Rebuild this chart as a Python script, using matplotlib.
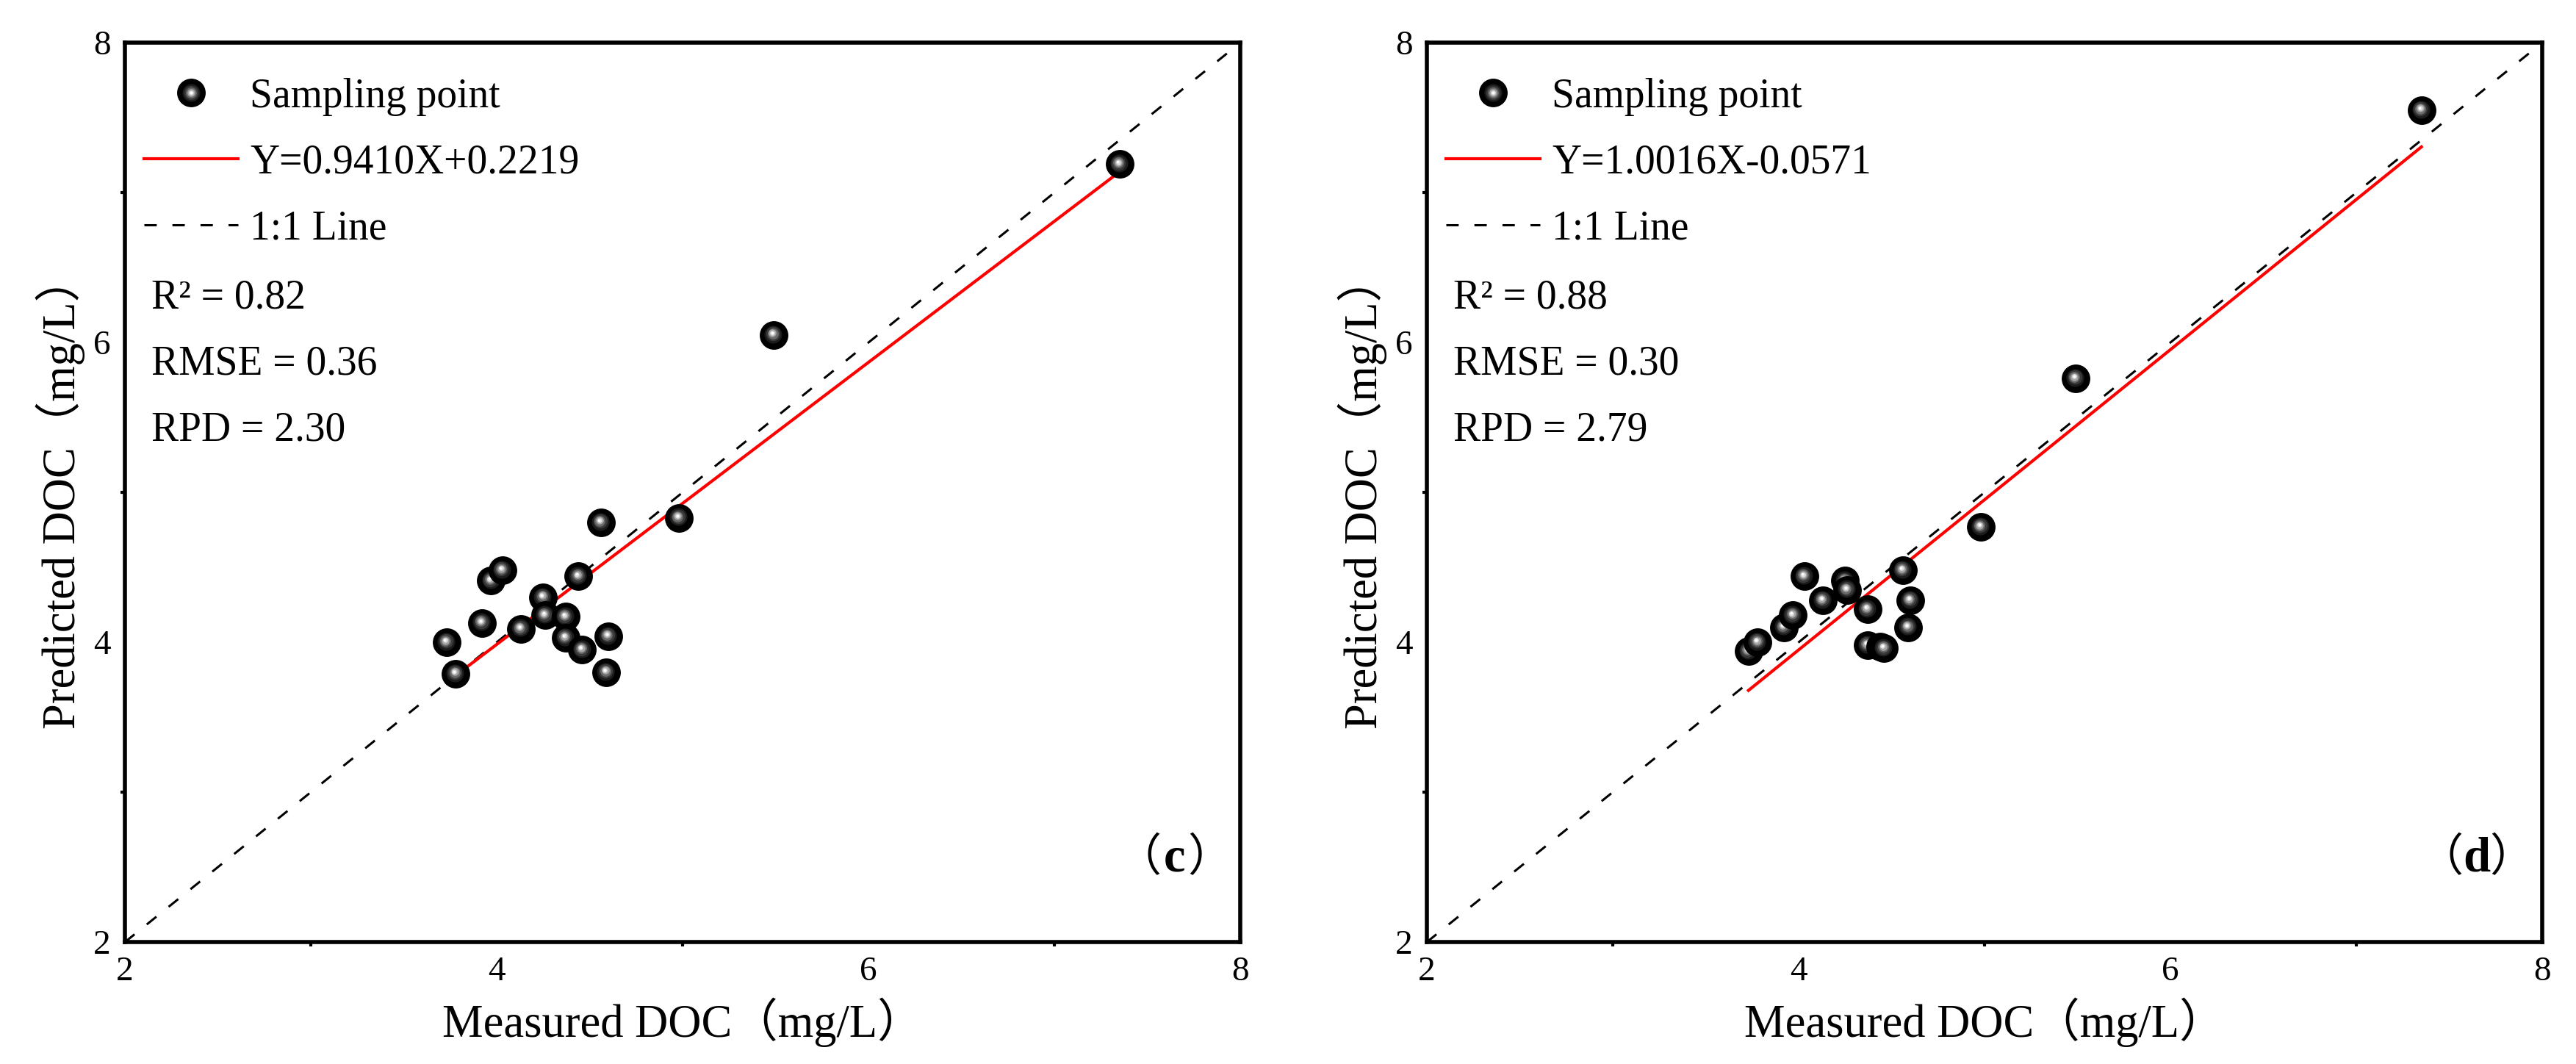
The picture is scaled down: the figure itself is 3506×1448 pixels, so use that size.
import numpy as np
import matplotlib
matplotlib.use('Agg')
import matplotlib.pyplot as plt
import matplotlib.transforms as mtransforms
from matplotlib.lines import Line2D
from matplotlib.legend_handler import HandlerTuple

plt.rcParams['font.family'] = ['Liberation Serif', 'Noto Sans CJK SC', 'DejaVu Sans']

# measured DOC, same samples in both panels
measured = [3.73, 3.78, 3.92, 3.97, 4.03, 4.13, 4.25, 4.26, 4.37, 4.37,
            4.44, 4.46, 4.56, 4.59, 4.60, 4.98, 5.49, 7.35]
# predicted DOC, panel (c) and panel (d)
pred_c = [4.00, 3.79, 4.13, 4.41, 4.48, 4.09, 4.30, 4.18, 4.17, 4.03,
          4.44, 3.95, 4.80, 3.80, 4.04, 4.83, 6.05, 7.19]
pred_d = [3.94, 4.00, 4.10, 4.18, 4.44, 4.28, 4.41, 4.35, 4.22, 3.98,
          3.97, 3.96, 4.48, 4.10, 4.28, 4.77, 5.76, 7.55]

fit_slope = [0.9410, 1.0016]
fit_icpt = [0.2219, -0.0571]
fit_label = ['Y=0.9410X+0.2219', 'Y=1.0016X-0.0571']
r2 = ['0.82', '0.88']
rmse = ['0.36', '0.30']
rpd = ['2.30', '2.79']
panel_tag = ['c', 'd']
lims = [2, 8]
major_ticks = [2, 4, 6, 8]
minor_ticks = [3, 5, 7]

fig = plt.figure(figsize=(17.53, 7.24), dpi=200)
ax_c = fig.add_axes([0.0485, 0.1146, 0.4330, 0.8453])
ax_d = fig.add_axes([0.5539, 0.1146, 0.4330, 0.8453])

MS = 14
layers = [(1.0, '#000000'), (0.62, '#1c1c1c'), (0.5, '#3a3a3a'), (0.38, '#6a6a6a'),
          (0.27, '#a5a5a5'), (0.17, '#dcdcdc'), (0.09, '#ffffff')]


def draw_balls(ax, xs, ys):
    for i, (x, y) in enumerate(zip(xs, ys)):
        for k, (f, c) in enumerate(layers):
            off = mtransforms.ScaledTranslation(-0.9 * (1 - f) / 72, 1.2 * (1 - f) / 72,
                                                fig.dpi_scale_trans)
            ax.plot([x], [y], 'o', ms=MS * f, mfc=c, mec=c, mew=0, ls='none',
                    transform=ax.transData + off, zorder=3 + i * 0.01 + k * 0.001)


for j, (ax, pred) in enumerate([(ax_c, pred_c), (ax_d, pred_d)]):
    ax.plot(lims, lims, ls=(0, (5.5, 7)), color='black', lw=1.1, zorder=2)
    xf = np.array([min(measured), max(measured)])
    ax.plot(xf, fit_slope[j] * xf + fit_icpt[j], color='red', lw=1.5, zorder=2.5)
    draw_balls(ax, measured, pred)

    ax.set_xlim(lims)
    ax.set_ylim(lims)
    ax.set_xticks(major_ticks)
    ax.set_yticks(major_ticks)
    ax.set_xticks(minor_ticks, minor=True)
    ax.set_yticks(minor_ticks, minor=True)
    ax.tick_params(which='major', length=0, pad=7, labelsize=17)
    ax.tick_params(which='minor', length=2.2, width=1.5, direction='out')
    for s in ax.spines.values():
        s.set_linewidth(2.0)
    ax.set_xlabel('Measured DOC（mg/L）', fontsize=22.5, labelpad=5)
    ax.set_ylabel('Predicted DOC（mg/L）', fontsize=22.5, labelpad=4)

    h_ball = tuple(Line2D([], [], marker='o', ls='none', ms=MS * f, mfc=c, mec=c, mew=0)
                   for f, c in layers)
    h_fit = Line2D([], [], color='red', lw=1.5)
    h_one = Line2D([], [], color='black', lw=1.1, ls=(0, (5.5, 7)))
    ax.legend([h_ball, h_fit, h_one], ['Sampling point', fit_label[j], '1:1 Line'],
              handler_map={tuple: HandlerTuple(ndivide=1, pad=0)},
              loc='upper left', bbox_to_anchor=(0.017, 0.961), frameon=False,
              fontsize=20, handlelength=2.3, handletextpad=0.3, labelspacing=0.68,
              borderaxespad=0, borderpad=0)
    stats = ['R² = ' + r2[j], 'RMSE = ' + rmse[j], 'RPD = ' + rpd[j]]
    for k, s in enumerate(stats):
        ax.text(0.024, 0.716 - 0.0735 * k, s, transform=ax.transAxes,
                fontsize=20, va='center', ha='left')

    # panel tag: light fullwidth brackets round a bold letter
    tx, ty = 0.941, 0.092
    lft = mtransforms.ScaledTranslation(-6.5 / 72, 0, fig.dpi_scale_trans)
    rgt = mtransforms.ScaledTranslation(6.5 / 72, 0, fig.dpi_scale_trans)
    ax.text(tx, ty, '（', transform=ax.transAxes + lft, fontsize=22,
            ha='right', va='center')
    ax.text(tx, ty, panel_tag[j], transform=ax.transAxes, fontsize=24,
            fontweight='bold', ha='center', va='center')
    ax.text(tx, ty, '）', transform=ax.transAxes + rgt, fontsize=22,
            ha='left', va='center')

fig.savefig('out.png', dpi=200)
